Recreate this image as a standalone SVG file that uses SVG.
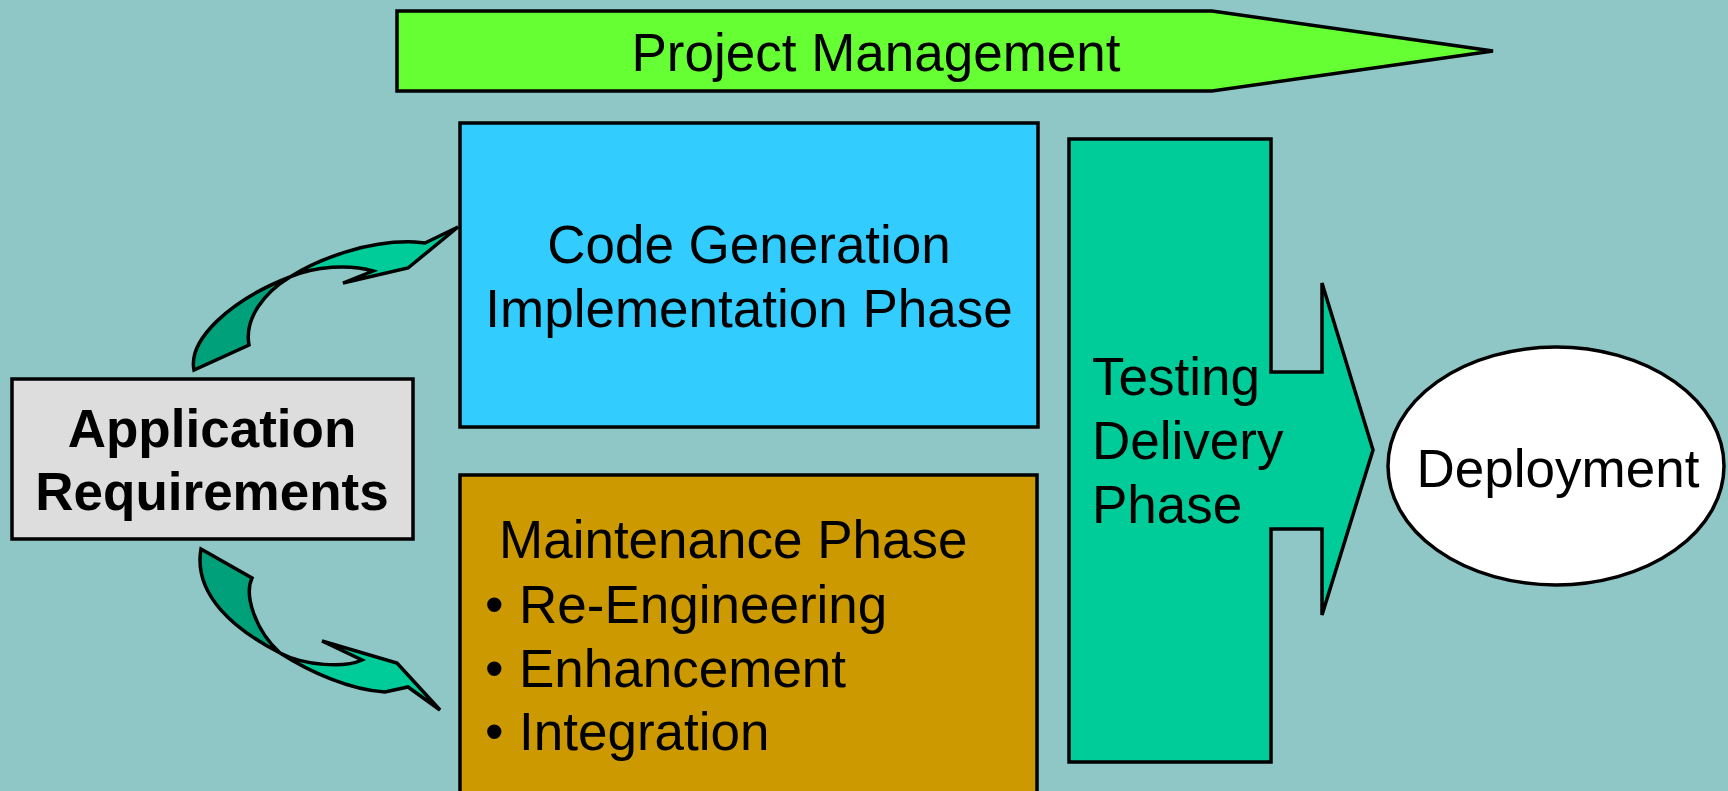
<svg xmlns="http://www.w3.org/2000/svg" width="1728" height="791" viewBox="0 0 1728 791">
<style>
.box{stroke:#000;stroke-width:3.5;stroke-linejoin:miter}
.t{font-family:"Liberation Sans",Arial,sans-serif;font-size:53px;fill:#000}
.b{font-weight:bold}
.m{text-anchor:middle}
.dark{fill:#00A07A;stroke:#000;stroke-width:3.5;stroke-linejoin:miter}
.light{fill:#00CC99;stroke:#000;stroke-width:3.5;stroke-linejoin:miter}
</style>
<rect x="0" y="0" width="1728" height="791" fill="#8FC6C6"/>
<g id="project-management">
<polygon class="box" points="397,11 1212,11 1493,51 1212,91 397,91" fill="#66FF33"/>
<text class="t m" x="876" y="71">Project Management</text>
</g>
<g id="code-generation">
<rect class="box" x="460" y="123" width="578" height="304" fill="#33CCFF"/>
<text class="t m" x="749" y="263">Code Generation</text>
<text class="t m" x="749" y="327">Implementation Phase</text>
</g>
<g id="maintenance">
<rect class="box" x="460" y="475" width="577" height="340" fill="#CC9900"/>
<text class="t" x="499" y="558">Maintenance Phase</text>
<text class="t" y="623"><tspan x="485">•</tspan><tspan x="519">Re-Engineering</tspan></text>
<text class="t" y="687"><tspan x="485">•</tspan><tspan x="519">Enhancement</tspan></text>
<text class="t" y="750"><tspan x="485">•</tspan><tspan x="519">Integration</tspan></text>
</g>
<g id="testing-delivery">
<path class="box" fill="#00CC99" d="M1069,139 H1271 V372 H1322 V283 L1373,450 L1322,615 V529 H1271 V762 H1069 Z"/>
<text class="t" x="1092" y="395">Testing</text>
<text class="t" x="1092" y="459">Delivery</text>
<text class="t" x="1092" y="523">Phase</text>
</g>
<g id="deployment">
<ellipse class="box" cx="1556" cy="466" rx="168" ry="119" fill="#FFFFFF"/>
<text class="t m" x="1558" y="487">Deployment</text>
</g>
<g id="application-requirements">
<rect class="box" x="12" y="379" width="401" height="160" fill="#DDDDDD"/>
<text class="t b m" x="212" y="447">Application</text>
<text class="t b m" x="212" y="510">Requirements</text>
</g>
<g id="connectors">
<g id="arrow-to-code">
<path class="dark" d="M194,370 C188,340 230,300 290,277 C265,292 244,318 249,345 Z"/>
<path class="light" d="M290,277 C320,258 370,240 415,242 L425,243 L458,227 L408,268 L343,283 L373,271 C350,264 315,266 290,277 Z"/>
</g>
<g id="arrow-to-maintenance">
<path class="dark" d="M201,549 L252,578 C244,595 255,630 280,653 C235,630 193,595 201,549 Z"/>
<path class="light" d="M280,653 C310,672 350,690 385,692 L408,687 L440,710 L397,663 L322,641 L362,660 C345,668 305,666 280,653 Z"/>
</g>
</g>
</svg>
